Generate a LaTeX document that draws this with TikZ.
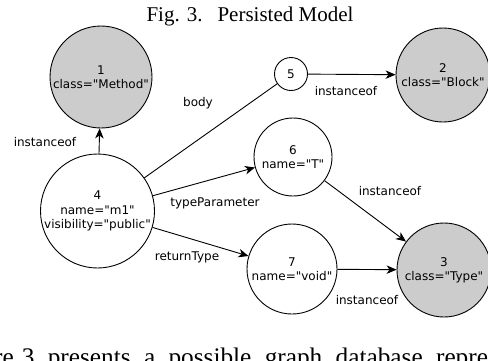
\documentclass[tikz,border=0pt]{standalone}
\usepackage{fontspec}
\setmainfont{Liberation Serif}
\newfontfamily\vera[Ligatures=TeXOff]{DejaVu Sans}
\usetikzlibrary{arrows.meta}
\definecolor{nodegray}{HTML}{CCCCCC}
\begin{document}
\begin{tikzpicture}[x=1pt,y=-1pt,
  vnode/.style={circle,draw=black,line width=0.9pt,inner sep=0pt,align=center,
    font=\vera\fontsize{12}{14.4}\selectfont},
  clsnode/.style={vnode,fill=nodegray},
  instnode/.style={vnode,fill=white},
  lbl/.style={font=\vera\fontsize{12}{14.4}\selectfont,inner sep=0pt},
  arr/.style={line width=0.9pt,-{Stealth[length=10pt,width=8.5pt,inset=3pt]}},
  plainline/.style={line width=0.9pt}]
\useasboundingbox (0,0) rectangle (488,360);
\clip (0,0) rectangle (488,360);
\node[anchor=base,inner sep=0pt,font=\fontsize{21}{25}\selectfont] (title) at (250,21) {Fig. 3.\hspace{15pt}Persisted Model};
\node[clsnode,minimum size=102pt] (n1) at (101,77) {1\\class="Method"};
\node[clsnode,minimum size=94pt] (n2) at (443,75) {2\\class="Block"};
\node[clsnode,minimum size=94pt] (n3) at (444,270) {3\\class="Type"};
\node[instnode,minimum size=114pt] (n4) at (97.5,211) {4\\name="m1"\\visibility="public"};
\node[instnode,minimum size=33pt] (n5) at (291,74) {5};
\node[instnode,minimum size=78pt] (n6) at (293,157) {6\\name="T"};
\node[instnode,minimum size=90pt] (n7) at (292,269) {7\\name="void"};
\draw[arr] (n4) -- (n1);
\draw[plainline] (n4) -- (n5);
\draw[arr] (n5) -- (n2);
\draw[arr] (n4) -- (n6);
\draw[arr] (n4) -- (n7);
\draw[arr] (n6) -- (n3);
\draw[arr] (n7) -- (n3);
\node[lbl] (l41) at (45,142) {instanceof};
\node[lbl] (l45) at (198,103) {body};
\node[lbl] (l52) at (346,91) {instanceof};
\node[lbl] (l46) at (215,203) {typeParameter};
\node[lbl] (l63) at (390,191) {instanceof};
\node[lbl] (l47) at (187,257) {returnType};
\node[lbl] (l73) at (367,300) {instanceof};
\node[anchor=base west,inner sep=0pt,font=\fontsize{25.3}{30}\selectfont] (body) at (-6,365)
  {\spaceskip=13.3pt re\hspace{8pt}3 presents a possible graph database repre};
\end{tikzpicture}
\end{document}
